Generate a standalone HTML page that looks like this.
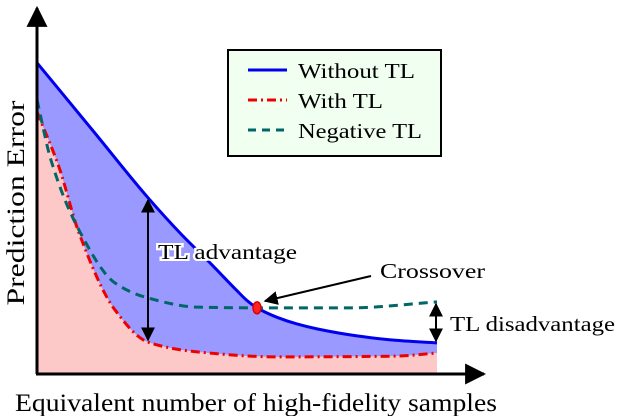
<!DOCTYPE html>
<html><head><meta charset="utf-8"><style>
html,body{margin:0;padding:0;background:#fff;}
svg{display:block;}
text{font-family:"Liberation Serif","DejaVu Serif",serif;}
</style></head><body>
<svg id="chart" width="618" height="416" viewBox="0 0 618 416">
<defs>
<marker id="ah" viewBox="0 0 10 10" refX="9" refY="5" markerWidth="7" markerHeight="7" orient="auto-start-reverse"><path d="M0,0 L10,5 L0,10 z" fill="#000"/></marker>
</defs>
<g id="marks"></g>
<g id="annot"></g>
</svg>
<script>
const blueX=[0,1.4,2.78,3.6,4.33,5.0,5.25,5.5,6.0,6.5,7.0,8.0,9.0,10];
const blueY=[8.89,6.95,5.03,4.0,3.17,2.38,2.1,1.89,1.62,1.43,1.29,1.09,0.96,0.89];
const tealX=[0,0.35,1.05,1.95,2.78,4.03,5.53,7.83,10];
const tealY=[7.83,6.11,4.11,2.6,2.17,1.91,1.89,1.89,2.06];
const redX=[0,0.55,1.05,1.95,2.78,4.03,6.0,8.95,10];
const redY=[7.49,5.91,4.03,1.83,0.91,0.63,0.49,0.51,0.6];
const crossX=5.5, crossY=1.89;

const sx=v=>37+v*40;
const sy=v=>374-v*35;
const NS="http://www.w3.org/2000/svg";
const marks=document.getElementById('marks');

function pathD(xs,ys){
  const X=xs.map(sx), Y=ys.map(sy), n=X.length;
  const d=[],m=[];
  for(let i=0;i<n-1;i++) d.push((Y[i+1]-Y[i])/(X[i+1]-X[i]));
  m[0]=d[0]; m[n-1]=d[n-2];
  for(let i=1;i<n-1;i++){
    if(d[i-1]*d[i]<=0) m[i]=0;
    else { const h0=X[i]-X[i-1],h1=X[i+1]-X[i]; const w1=2*h1+h0,w2=h1+2*h0; m[i]=(w1+w2)/(w1/d[i-1]+w2/d[i]); }
  }
  let s=`M${X[0]},${Y[0]}`;
  for(let i=0;i<n-1;i++){
    const h=(X[i+1]-X[i])/3;
    s+=` C${X[i]+h},${Y[i]+m[i]*h} ${X[i+1]-h},${Y[i+1]-m[i+1]*h} ${X[i+1]},${Y[i+1]}`;
  }
  return s;
}
function mk(tag,attrs,parent){const e=document.createElementNS(NS,tag);for(const k in attrs)e.setAttribute(k,attrs[k]);parent.appendChild(e);return e;}

const blueD=pathD(blueX,blueY), redD=pathD(redX,redY), tealD=pathD(tealX,tealY);
const x0=sx(0), x1=sx(10), yb=sy(0);
const fb=mk('path',{d:blueD+` L${x1},${yb} L${x0},${yb} Z`,fill:'#9999ff',stroke:'none'},marks);


const fr=mk('path',{d:redD+` L${x1},${yb} L${x0},${yb} Z`,fill:'#fdc8c8',stroke:'none'},marks);


const lb=mk('path',{d:blueD,fill:'none',stroke:'#0000ee','stroke-width':3},marks);


const lr=mk('path',{d:redD,fill:'none',stroke:'#ee0000','stroke-width':3,'stroke-dasharray':'9,4,2,4'},marks);


const lt=mk('path',{d:tealD,fill:'none',stroke:'#006666','stroke-width':3,'stroke-dasharray':'9,6'},marks);


const cp=mk('ellipse',{cx:sx(crossX),cy:sy(crossY),rx:4,ry:6,fill:'#ff2222',stroke:'#dd0000','stroke-width':1.5},marks);


</script>
<script>
(function(){
const a=document.getElementById('annot');
a.innerHTML=`
<line x1="37" y1="374" x2="37" y2="8" stroke="#000" stroke-width="3" marker-end="url(#ah)"/>
<line x1="36" y1="374" x2="484" y2="374" stroke="#000" stroke-width="3" marker-end="url(#ah)"/>
<text x="24" y="203" font-size="25" text-anchor="middle" textLength="205" lengthAdjust="spacingAndGlyphs" transform="rotate(-90 24 203)">Prediction Error</text>
<text x="15" y="411" font-size="25" textLength="482" lengthAdjust="spacingAndGlyphs">Equivalent number of high-fidelity samples</text>
<line x1="148" y1="200" x2="148" y2="340" stroke="#000" stroke-width="2" marker-start="url(#ah)" marker-end="url(#ah)"/>
<text x="158" y="259" font-size="21" textLength="139" lengthAdjust="spacingAndGlyphs" stroke="#fff" stroke-width="4" paint-order="stroke">TL advantage</text>
<line x1="436" y1="304" x2="436" y2="341" stroke="#000" stroke-width="2" marker-start="url(#ah)" marker-end="url(#ah)"/>
<text x="450" y="331" font-size="21" textLength="165" lengthAdjust="spacingAndGlyphs">TL disadvantage</text>
<line x1="371" y1="276" x2="265" y2="301" stroke="#000" stroke-width="2" marker-end="url(#ah)"/>
<text x="380" y="278" font-size="21" textLength="105" lengthAdjust="spacingAndGlyphs">Crossover</text>
<g>
<rect x="228" y="50" width="213" height="106" fill="#f0fff0" stroke="#000" stroke-width="2"/>
<line x1="248" y1="70" x2="287" y2="70" stroke="#0000ee" stroke-width="3"/>
<text x="298" y="78" font-size="21" textLength="117" lengthAdjust="spacingAndGlyphs">Without TL</text>
<line x1="248" y1="100" x2="287" y2="100" stroke="#ee0000" stroke-width="3" stroke-dasharray="9,4,2,4"/>
<text x="298" y="108" font-size="21" textLength="85" lengthAdjust="spacingAndGlyphs">With TL</text>
<line x1="248" y1="130" x2="287" y2="130" stroke="#006666" stroke-width="3" stroke-dasharray="8,6"/>
<text x="298" y="138" font-size="21" textLength="124" lengthAdjust="spacingAndGlyphs">Negative TL</text>
</g>`;
})();
</script>
</body></html>
